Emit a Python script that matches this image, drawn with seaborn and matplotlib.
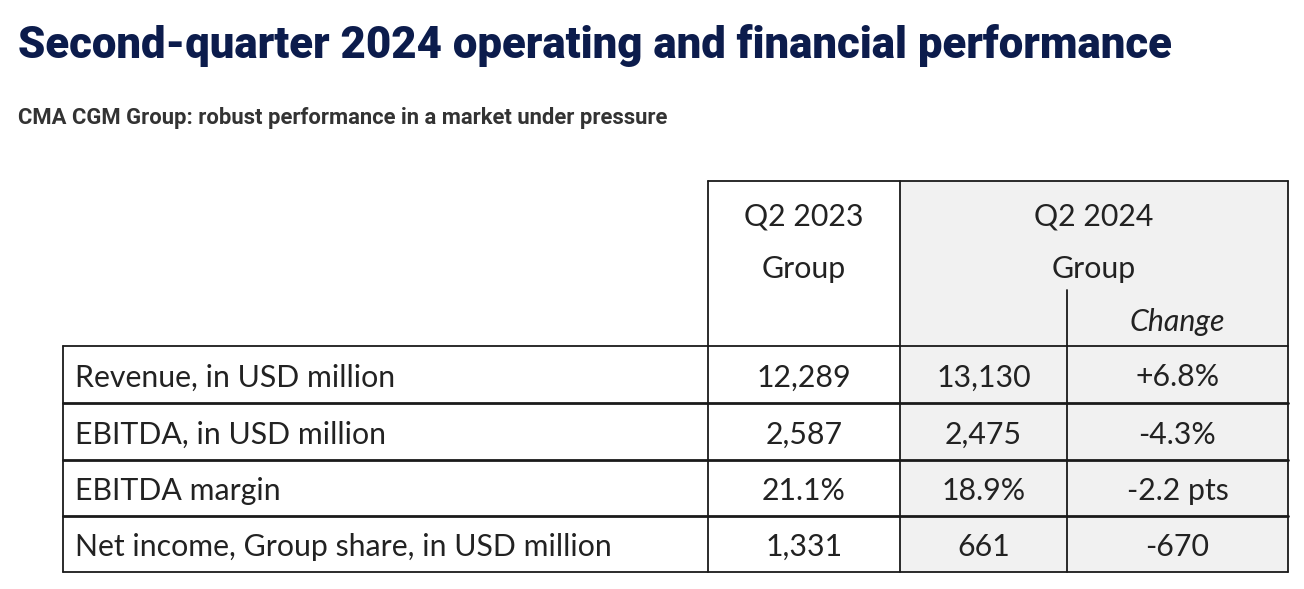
import matplotlib
matplotlib.use('Agg')
import matplotlib.pyplot as plt
import seaborn as sns
import pandas as pd

sns.set_theme(style='white')
plt.rcParams['font.family'] = ['Lato', 'DejaVu Sans']

# dados da tabela
titulo = 'Second-quarter 2024 operating and financial performance'
subtitulo = 'CMA CGM Group: robust performance in a market under pressure'
indicadores = ['Revenue, in USD million', 'EBITDA, in USD million',
               'EBITDA margin', 'Net income, Group share, in USD million']
q2_2023 = ['12,289', '2,587', '21.1%', '1,331']
q2_2024 = ['13,130', '2,475', '18.9%', '661']
variacao = ['+6.8%', '-4.3%', '-2.2 pts', '-670']

df = pd.DataFrame({'Indicador': indicadores, 'Q2 2023': q2_2023,
                   'Q2 2024': q2_2024, 'Change': variacao})

W, H = 1304, 589
fig = plt.figure(figsize=(W / 100, H / 100), dpi=100)
ax = fig.add_axes([0, 0, 1, 1])
ax.set_xlim(0, W)
ax.set_ylim(H, 0)
ax.axis('off')

# titulo e subtitulo
ax.text(18, 58, titulo, fontsize=31.5, fontweight='heavy', color='#0c1c4c',
        family=['Roboto', 'DejaVu Sans'], va='baseline', ha='left')
ax.text(18, 124, subtitulo, fontsize=15.8, fontweight='bold', color='#333333',
        family=['Roboto', 'DejaVu Sans'], va='baseline', ha='left')

# layout da tabela (pixels)
x_esq, x_c1, x_c2, x_c3, x_dir = 63, 708, 900, 1067, 1288
y_topo, y_inner, y_hdr = 181, 290, 346
linhas_y = [346, 403, 460, 516, 572]
lc = '#1a1a1a'

# fundo cinza das colunas de 2024
ax.add_patch(plt.Rectangle((x_c2, y_topo), x_dir - x_c2, linhas_y[-1] - y_topo,
                           facecolor='#f1f1f1', edgecolor='none', zorder=0))

# bordas do cabecalho
ax.plot([x_c1, x_dir], [y_topo, y_topo], color=lc, lw=1.3)
ax.plot([x_c1, x_c1], [y_topo, linhas_y[-1]], color=lc, lw=1.3)
ax.plot([x_c2, x_c2], [y_topo, linhas_y[-1]], color=lc, lw=1.3)
ax.plot([x_dir, x_dir], [y_topo, linhas_y[-1]], color=lc, lw=1.3)
ax.plot([x_c3, x_c3], [y_inner, linhas_y[-1]], color=lc, lw=1.3)
ax.plot([x_esq, x_esq], [y_hdr, linhas_y[-1]], color=lc, lw=1.3)
for i, y in enumerate(linhas_y):
    ax.plot([x_esq, x_dir], [y, y], color=lc, lw=1.3 if i in (0, 4) else 2)

# cabecalho
fs = 21.8
cor_txt = '#222222'
dy = 3
ax.text((x_c1 + x_c2) / 2, 213 + dy, 'Q2 2023', fontsize=fs, color=cor_txt, ha='center', va='center')
ax.text((x_c1 + x_c2) / 2, 266 + dy, 'Group', fontsize=fs, color=cor_txt, ha='center', va='center')
ax.text((x_c2 + x_dir) / 2, 213 + dy, 'Q2 2024', fontsize=fs, color=cor_txt, ha='center', va='center')
ax.text((x_c2 + x_dir) / 2, 266 + dy, 'Group', fontsize=fs, color=cor_txt, ha='center', va='center')
ax.text((x_c3 + x_dir) / 2, 319 + dy, 'Change', fontsize=fs, color=cor_txt, ha='center', va='center',
        style='italic')

# linhas de dados
for i, row in df.iterrows():
    yc = (linhas_y[i] + linhas_y[i + 1]) / 2 + dy
    ax.text(x_esq + 12, yc, row['Indicador'], fontsize=fs, color=cor_txt, ha='left', va='center')
    ax.text((x_c1 + x_c2) / 2, yc, row['Q2 2023'], fontsize=fs, color=cor_txt, ha='center', va='center')
    ax.text((x_c2 + x_c3) / 2, yc, row['Q2 2024'], fontsize=fs, color=cor_txt, ha='center', va='center')
    ax.text((x_c3 + x_dir) / 2, yc, row['Change'], fontsize=fs, color=cor_txt, ha='center', va='center')

fig.savefig('out.png', dpi=100, facecolor='white')
